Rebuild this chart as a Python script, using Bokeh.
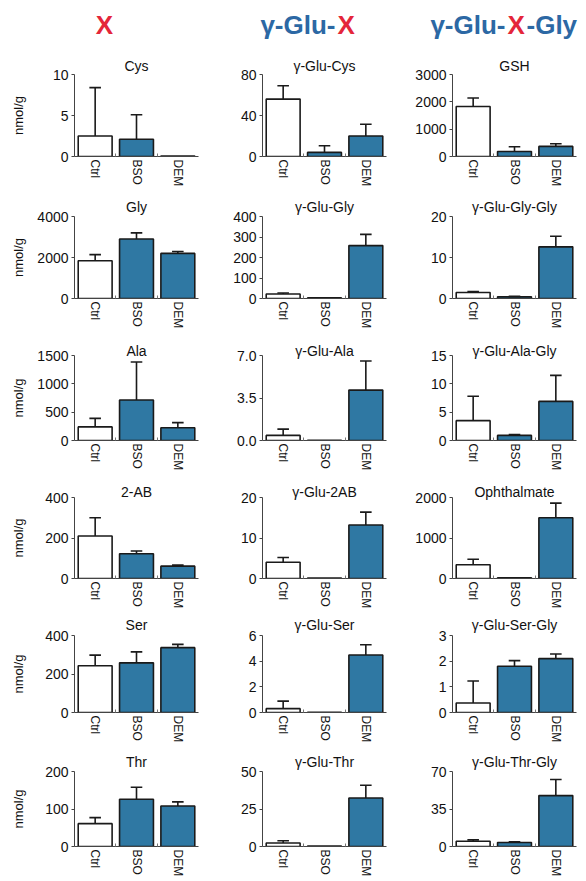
import numpy as np
from bokeh.plotting import figure
from bokeh.models import Range1d, FixedTicker, PrintfTickFormatter, ColumnDataSource
from bokeh.core.properties import value
from bokeh.layouts import gridplot, column
from bokeh.embed import file_html
from bokeh.resources import INLINE

# ---------------- data ----------------
groups = ["Ctrl", "BSO", "DEM"]

titles = [
    ["Cys", "γ-Glu-Cys", "GSH"],
    ["Gly", "γ-Glu-Gly", "γ-Glu-Gly-Gly"],
    ["Ala", "γ-Glu-Ala", "γ-Glu-Ala-Gly"],
    ["2-AB", "γ-Glu-2AB", "Ophthalmate"],
    ["Ser", "γ-Glu-Ser", "γ-Glu-Ser-Gly"],
    ["Thr", "γ-Glu-Thr", "γ-Glu-Thr-Gly"],
]

# mean values (Ctrl, BSO, DEM), nmol/g
means = [
    [[2.5, 2.1, 0.05], [56, 4, 20], [1830, 185, 370]],
    [[1840, 2900, 2200], [22, 3, 258], [1.45, 0.43, 12.6]],
    [[240, 715, 225], [0.42, 0.02, 4.15], [3.5, 0.9, 6.9]],
    [[210, 122, 61], [4.0, 0.1, 13.2], [340, 20, 1500]],
    [[243, 258, 337], [0.3, 0.02, 4.48], [0.37, 1.8, 2.1]],
    [[61, 126, 108], [2.3, 0.3, 32.3], [4.9, 3.8, 47.5]],
]

# upper error (SD)
errors = [
    [[5.9, 3.0, 0.0], [13, 6.5, 11.5], [310, 170, 95]],
    [[300, 300, 95], [5, 0, 55], [0.25, 0.1, 2.6]],
    [[150, 670, 90], [0.52, 0.0, 2.4], [4.3, 0.15, 4.6]],
    [[90, 14, 5], [1.2, 0.0, 3.2], [135, 0.0, 360]],
    [[55, 57, 17], [0.59, 0.0, 0.8], [0.86, 0.22, 0.18]],
    [[16, 32, 11], [1.5, 0.0, 8.5], [1.3, 0.5, 15]],
]

y_max = [
    [10, 80, 3000],
    [4000, 400, 20],
    [1500, 7.0, 15],
    [400, 20, 2000],
    [400, 6, 3],
    [200, 50, 70],
]

y_ticks = [
    [[0, 5, 10], [0, 40, 80], [0, 1000, 2000, 3000]],
    [[0, 2000, 4000], [0, 100, 200, 300, 400], [0, 10, 20]],
    [[0, 500, 1000, 1500], [0, 3.5, 7.0], [0, 5, 10, 15]],
    [[0, 200, 400], [0, 10, 20], [0, 1000, 2000]],
    [[0, 200, 400], [0, 2, 4, 6], [0, 1, 2, 3]],
    [[0, 100, 200], [0, 25, 50], [0, 35, 70]],
]

y_formats = [
    ["%d", "%d", "%d"],
    ["%d", "%d", "%d"],
    ["%d", "%.1f", "%d"],
    ["%d", "%d", "%d"],
    ["%d", "%d", "%d"],
    ["%d", "%d", "%d"],
]

y_label = "nmol/g"

# ---------------- style / layout ----------------
FONT = "Liberation Sans"
BLUE = "#2f78a3"
HEAD_BLUE = "#2c68a4"
HEAD_RED = "#e4263a"

FW = 124
ML = [74, 54, 51]
MR = [10, 15, 10]
MT = [24, 24, 24, 24, 24, 24]
FH = [82, 82, 85, 81, 77, 75]
MB = [36, 33, 33, 33, 35, 35]
TITLE_STANDOFF = [1, 3, -7, -5, 6, 4]

xs = np.array([0.5, 1.5, 2.5])
BAR_W = 0.82
CAP = 0.14


def panel(r, c):
    m = np.array(means[r][c], dtype=float)
    e = np.array(errors[r][c], dtype=float)
    p = figure(
        x_range=Range1d(0, 3), y_range=Range1d(0, y_max[r][c]),
        frame_width=FW, frame_height=FH[r],
        min_border_left=ML[c], min_border_right=MR[c],
        min_border_top=MT[r], min_border_bottom=MB[r],
        output_backend="svg", toolbar_location=None, tools="",
        outline_line_color=None, background_fill_color="white",
        border_fill_color="white", title=titles[r][c],
    )
    p.title.align = "center"
    p.title.text_font = FONT
    p.title.text_font_size = "14px"
    p.title.text_font_style = "normal"
    p.title.text_color = "#111111"
    p.title.standoff = TITLE_STANDOFF[r]
    p.xgrid.visible = False
    p.ygrid.visible = False

    src = ColumnDataSource(dict(x=xs, top=m, color=["white", BLUE, BLUE]))
    p.vbar(x="x", top="top", width=BAR_W, fill_color="color", line_color="#1a1a1a",
           line_width=1.6, source=src)

    keep = e > 0
    ex = xs[keep]
    y0 = m[keep]
    y1 = m[keep] + e[keep]
    p.segment(x0=ex, y0=y0, x1=ex, y1=y1, line_color="#1a1a1a", line_width=1.6)
    p.segment(x0=ex - CAP, y0=y1, x1=ex + CAP, y1=y1, line_color="#1a1a1a", line_width=1.6)

    # y axis
    ya = p.yaxis[0]
    ya.ticker = FixedTicker(ticks=y_ticks[r][c])
    ya.formatter = PrintfTickFormatter(format=y_formats[r][c])
    ya.axis_line_color = "#444444"
    ya.major_tick_line_color = "#444444"
    ya.major_tick_out = 3
    ya.major_tick_in = 0
    ya.minor_tick_line_color = None
    ya.major_label_text_font = FONT
    ya.major_label_text_font_size = "14px"
    ya.major_label_text_color = "#111111"
    ya.major_label_standoff = 3
    if c == 0:
        labels = [y_formats[r][c] % t for t in y_ticks[r][c]]
        nch = max(len(s) for s in labels)
        ya.axis_label = y_label
        ya.axis_label_text_font = FONT
        ya.axis_label_text_font_size = "13px"
        ya.axis_label_text_font_style = "normal"
        ya.axis_label_text_color = "#111111"
        ya.axis_label_standoff = int(round((4 - nch) * 7.8)) + 8

    # x axis
    xa = p.xaxis[0]
    xa.ticker = FixedTicker(ticks=list(xs), minor_ticks=[1, 2])
    xa.major_label_overrides = {float(x): g for x, g in zip(xs, groups)}
    xa.major_label_orientation = "vertical"
    xa.major_label_text_font = FONT
    xa.major_label_text_font_size = "12px"
    xa.major_label_text_color = "#111111"
    xa.major_label_standoff = 3
    xa.major_tick_in = 0
    xa.major_tick_out = 0
    xa.minor_tick_in = 3
    xa.minor_tick_out = 0
    xa.minor_tick_line_color = "#777777"
    xa.axis_line_color = "#444444"
    return p


grid_rows = [[panel(r, c) for c in range(3)] for r in range(6)]
grid = gridplot(grid_rows, toolbar_location=None)

# header
HW = sum(ML) + 3 * FW + sum(MR)
HH = 50
head = figure(width=HW, height=HH, x_range=Range1d(0, HW), y_range=Range1d(HH, 0),
              x_axis_type=None, y_axis_type=None, output_backend="svg",
              toolbar_location=None, tools="", min_border=0, outline_line_color=None)
head.xgrid.visible = False
head.ygrid.visible = False
hy = 24
hstyle = dict(text_baseline="middle", text_font=value(FONT), text_font_size=value("26px"),
              text_font_style="bold")
head.text(x=[104], y=[hy], text=["X"], text_align="center", text_color=HEAD_RED, **hstyle)
head.text(x=[335], y=[hy], text=["γ-Glu-"], text_align="right", text_color=HEAD_BLUE, **hstyle)
head.text(x=[337], y=[hy], text=["X"], text_align="left", text_color=HEAD_RED, **hstyle)
head.text(x=[505], y=[hy], text=["γ-Glu-"], text_align="right", text_color=HEAD_BLUE, **hstyle)
head.text(x=[507], y=[hy], text=["X"], text_align="left", text_color=HEAD_RED, **hstyle)
head.text(x=[526], y=[hy], text=["-Gly"], text_align="left", text_color=HEAD_BLUE, **hstyle)

layout = column(head, grid)
open("out.html", "w").write(file_html(layout, INLINE))
